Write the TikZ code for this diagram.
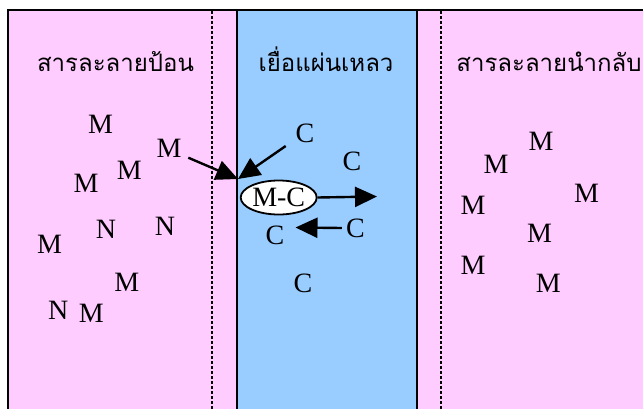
\documentclass[tikz,border=0pt]{standalone}
\usepackage{fontspec}
\setmainfont{Liberation Serif}
\newfontfamily\thaifont[Script=Thai]{Loma}
\usetikzlibrary{arrows.meta,shapes.geometric}
\definecolor{pinkbg}{HTML}{FFCCFF}
\definecolor{bluebg}{HTML}{99CCFF}
\tikzset{
  lett/.style={inner sep=1pt, font=\fontsize{28}{30}\selectfont},
  thai/.style={anchor=base, inner sep=0pt, font=\thaifont\fontsize{24}{28}\selectfont},
  wall/.style={line width=2.2pt, black},
  dotwall/.style={line width=2.5pt, dash pattern=on 3pt off 2pt, black},
  arr/.style={line width=2.4pt, -{Triangle[length=22pt 0,width=20pt 0]}},
}
\begin{document}
\begin{tikzpicture}[x=1pt,y=-1pt]
\useasboundingbox (0,0) rectangle (643,408);
\fill[white] (0,0) rectangle (643,408);
\begin{scope}
\clip (0,0) rectangle (643,408);
\fill[pinkbg] (8,10) rectangle (237,420);
\fill[bluebg] (237,10) rectangle (417,420);
\fill[pinkbg] (417,10) rectangle (660,420);
\draw[dotwall] (212,11) -- (212,420);
\draw[dotwall] (441,11) -- (441,420);
\draw[wall] (8,420) -- (8,10) -- (660,10);
\draw[wall] (237,10) -- (237,420);
\draw[wall] (417,10) -- (417,420);
\end{scope}
% titles
\node[thai] (tfeed) at (115.5,71) {สารละลายป้อน};
\node[thai] (tmem) at (326,71) {เยื่อแผ่นเหลว};
\node[thai] (tstrip) at (549,71) {สารละลายนำกลับ};
% left
\node[lett] (m1) at (100.5,124.5) {M};
\node[lett] (m2) at (169,148) {M};
\node[lett] (m3) at (129.3,170.5) {M};
\node[lett] (m4) at (86,183.3) {M};
\node[lett] (n1) at (106,229) {N};
\node[lett] (n2) at (165,226) {N};
\node[lett] (m5) at (49.5,244.5) {M};
\node[lett] (m6) at (126.7,282) {M};
\node[lett] (n3) at (58.3,310.5) {N};
\node[lett] (m7) at (91.3,313) {M};
% middle
\node[lett] (c1) at (305,133) {C};
\node[lett] (c2) at (352,161) {C};
\node[draw, line width=1.8pt, fill=white, ellipse, minimum width=76pt, minimum height=34pt, inner sep=0pt, font=\fontsize{28}{30}\selectfont] (mc) at (278.7,197.5) {M-C};
\node[lett] (c3) at (355.5,228) {C};
\node[lett] (c4) at (275,235) {C};
\node[lett] (c5) at (303,283) {C};
% right
\node[lett] (r1) at (541,141.5) {M};
\node[lett] (r2) at (496,164.5) {M};
\node[lett] (r3) at (586.5,193.5) {M};
\node[lett] (r4) at (473,205.5) {M};
\node[lett] (r5) at (539.5,233.3) {M};
\node[lett] (r6) at (473,265.5) {M};
\node[lett] (r7) at (548.3,283.3) {M};
% arrows
\coordinate (jn) at (238,179);
\coordinate (outend) at (377,196.5);
\coordinate (inend) at (295.5,227.5);
\coordinate (m2s) at (188.3,157.7);
\coordinate (c1s) at (285.7,146);
\draw[arr] (m2s) -- (jn);
\draw[arr] (c1s) -- (jn);
\draw[arr] (mc.east) -- (outend);
\draw[arr] ([xshift=-3pt]c3.west) -- (inend);
\end{tikzpicture}
\end{document}
